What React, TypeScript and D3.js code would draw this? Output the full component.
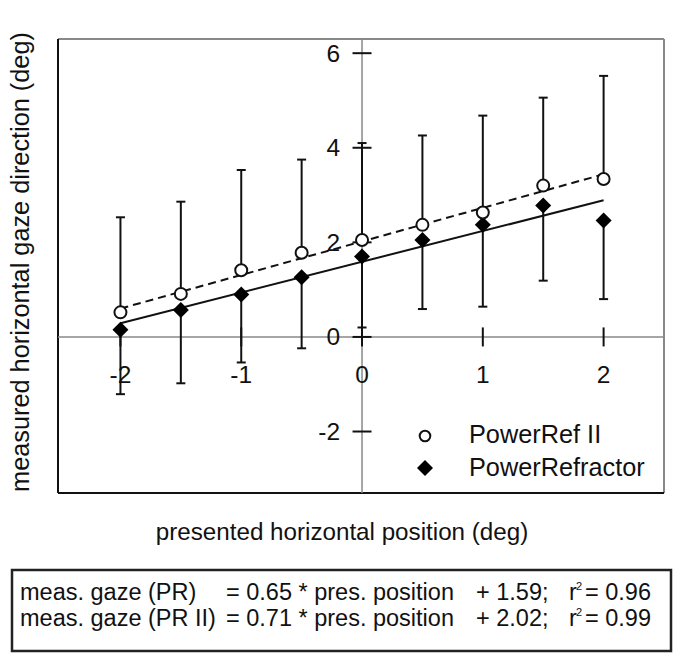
import React from "react";
import * as d3 from "d3";

const positions = [-2, -1.5, -1, -0.5, 0, 0.5, 1, 1.5, 2];
const powerRefII = [0.52, 0.91, 1.41, 1.78, 2.05, 2.37, 2.63, 3.2, 3.34];
const powerRefIIUpper = [2.53, 2.86, 3.53, 3.75, 4.1, 4.26, 4.68, 5.06, 5.52];
const powerRefractor = [0.15, 0.57, 0.9, 1.26, 1.7, 2.05, 2.37, 2.78, 2.46];
const powerRefractorLower = [-1.21, -0.98, -0.54, -0.24, 0.2, 0.59, 0.64, 1.19, 0.8];
const xTicks = [-2, -1, 0, 1, 2];
const yTicks = [-2, 0, 2, 4, 6];
const fitPR = { slope: 0.65, intercept: 1.59 };
const fitPRII = { slope: 0.71, intercept: 2.02 };
const fitRange = [-2, 2];
const legendLabels = ["PowerRef II", "PowerRefractor"];
const eqRows = [
  { name: "meas. gaze (PR)", rhs: "= 0.65 * pres. position", add: "+ 1.59;", r2: "= 0.96" },
  { name: "meas. gaze (PR II)", rhs: "= 0.71 * pres. position", add: "+ 2.02;", r2: "= 0.99" },
];

const FONT = "'Liberation Sans', Arial, Helvetica, sans-serif";

export default function App() {
  const left = 58, right = 664, top = 39, bottom = 493;
  const x = d3.scaleLinear().domain([-2.517, 2.5]).range([left, right]);
  const y = d3.scaleLinear().domain([-3.3, 6.3]).range([bottom, top]);
  const x0 = x(0), y0 = y(0);
  const fitLine = (f: { slope: number; intercept: number }) =>
    d3.line<number>().x((d) => x(d)).y((d) => y(f.slope * d + f.intercept))(fitRange) || "";
  const diamondSq = (cx: number, cy: number, r: number) =>
    `M${cx},${cy - r}L${cx + r},${cy}L${cx},${cy + r}L${cx - r},${cy}Z`;

  return (
    <svg
      width={685}
      height={654}
      style={{ position: "absolute", left: 0, top: 0, background: "#fff" }}
      fontFamily={FONT}
    >
      <rect x={0} y={0} width={685} height={654} fill="#fff" />
      {/* frame */}
      <line x1={left} x2={right} y1={top} y2={top} stroke="#888" strokeWidth={2} />
      <line x1={right} x2={right} y1={top} y2={bottom} stroke="#888" strokeWidth={2} />
      <line x1={left} x2={left} y1={top} y2={bottom} stroke="#111" strokeWidth={2} />
      <line x1={left} x2={right} y1={bottom} y2={bottom} stroke="#111" strokeWidth={2} />
      {/* axes through origin */}
      <line x1={left} x2={right} y1={y0} y2={y0} stroke="#888" strokeWidth={1.5} />
      <line x1={x0} x2={x0} y1={top} y2={bottom} stroke="#888" strokeWidth={1.5} />
      {/* y ticks */}
      {yTicks.map((t) => (
        <g key={"yt" + t}>
          <line x1={x0 - 9.5} x2={x0 + 9.5} y1={y(t)} y2={y(t)} stroke="#111" strokeWidth={2} />
          <text x={x0 - 22} y={y(t) + 8.5} textAnchor="end" fontSize={24.5} fill="#111">
            {t}
          </text>
        </g>
      ))}
      {/* x ticks */}
      {xTicks.map((t) => (
        <g key={"xt" + t}>
          <line x1={x(t)} x2={x(t)} y1={y0 - 9.5} y2={y0 + 9.5} stroke="#111" strokeWidth={2} />
          <text x={x(t)} y={383} textAnchor="middle" fontSize={24.5} fill="#111">
            {t}
          </text>
        </g>
      ))}
      {/* error bars */}
      {positions.map((p, i) => (
        <g key={"eb" + i} stroke="#111" strokeWidth={2}>
          <line x1={x(p)} x2={x(p)} y1={y(powerRefII[i])} y2={y(powerRefIIUpper[i])} />
          <line x1={x(p) - 4.5} x2={x(p) + 4.5} y1={y(powerRefIIUpper[i])} y2={y(powerRefIIUpper[i])} />
          <line x1={x(p)} x2={x(p)} y1={y(powerRefractor[i])} y2={y(powerRefractorLower[i])} />
          <line x1={x(p) - 4.5} x2={x(p) + 4.5} y1={y(powerRefractorLower[i])} y2={y(powerRefractorLower[i])} />
        </g>
      ))}
      {/* fit lines */}
      <path d={fitLine(fitPR)} fill="none" stroke="#111" strokeWidth={2} />
      <path d={fitLine(fitPRII)} fill="none" stroke="#111" strokeWidth={2} strokeDasharray="8,5" />
      {/* markers */}
      {positions.map((p, i) => (
        <path key={"pr" + i} d={diamondSq(x(p), y(powerRefractor[i]), 8)} fill="#000" />
      ))}
      {positions.map((p, i) => (
        <circle key={"pr2" + i} cx={x(p)} cy={y(powerRefII[i])} r={6} fill="#fff" stroke="#111" strokeWidth={2} />
      ))}
      {/* legend */}
      <circle cx={425} cy={436} r={5.3} fill="#fff" stroke="#111" strokeWidth={2} />
      <text x={469} y={443} fontSize={25.3} fill="#111">{legendLabels[0]}</text>
      <path d={diamondSq(425, 468, 8)} fill="#000" />
      <text x={469} y={476} fontSize={25.3} fill="#111">{legendLabels[1]}</text>
      {/* axis titles */}
      <text x={342} y={540} textAnchor="middle" fontSize={24.2} fill="#111">
        presented horizontal position (deg)
      </text>
      <text
        transform={`translate(29,262) rotate(-90)`}
        textAnchor="middle"
        fontSize={25.3}
        fill="#111"
      >
        measured horizontal gaze direction (deg)
      </text>
      {/* equation box */}
      <rect x={12} y={570} width={659} height={81} fill="none" stroke="#222" strokeWidth={2.5} />
      {eqRows.map((r, i) => {
        const by = 600 + i * 26;
        return (
          <g key={"eq" + i} fontSize={23.5} fill="#111">
            <text x={20} y={by}>{r.name}</text>
            <text x={226} y={by}>{r.rhs}</text>
            <text x={476} y={by}>{r.add}</text>
            <text x={569} y={by}>r</text>
            <text x={576} y={by - 10} fontSize={11}>2</text>
            <text x={585} y={by}>{r.r2}</text>
          </g>
        );
      })}
    </svg>
  );
}
